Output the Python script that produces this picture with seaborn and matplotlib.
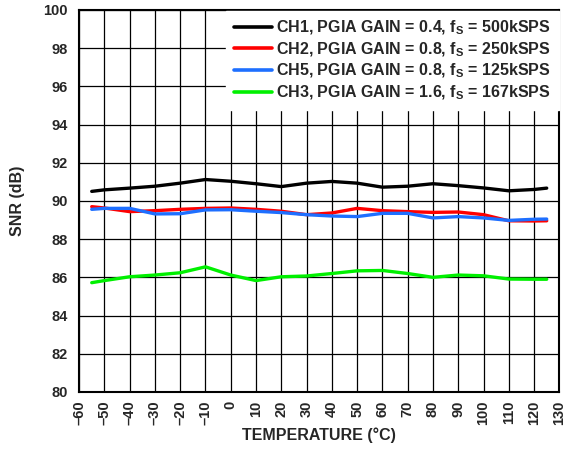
import matplotlib
matplotlib.use("Agg")
import matplotlib.pyplot as plt
import pandas as pd
import seaborn as sns

# ---------------------------------------------------------------------------
# Data
# ---------------------------------------------------------------------------

temperature = [-55, -50, -40, -30, -20, -10, 0, 10, 20, 30, 40, 50, 60, 70,
               80, 90, 100, 110, 120, 125]

snr_ch1 = [90.50, 90.58, 90.67, 90.77, 90.93, 91.12, 91.03, 90.90, 90.75, 90.93,
           91.02, 90.93, 90.72, 90.77, 90.90, 90.80, 90.68, 90.53, 90.60, 90.67]
snr_ch2 = [89.70, 89.63, 89.44, 89.49, 89.56, 89.61, 89.63, 89.56, 89.46, 89.28,
           89.37, 89.61, 89.49, 89.44, 89.40, 89.42, 89.28, 88.96, 88.95, 88.96]
snr_ch5 = [89.56, 89.61, 89.61, 89.32, 89.33, 89.53, 89.54, 89.46, 89.39, 89.28,
           89.21, 89.18, 89.35, 89.35, 89.11, 89.18, 89.11, 88.98, 89.04, 89.05]
snr_ch3 = [85.72, 85.83, 86.03, 86.12, 86.24, 86.55, 86.12, 85.83, 86.03, 86.07,
           86.20, 86.34, 86.36, 86.20, 86.00, 86.12, 86.08, 85.91, 85.90, 85.90]

series_labels = [
    "CH1, PGIA GAIN = 0.4, f$_S$ = 500kSPS",
    "CH2, PGIA GAIN = 0.8, f$_S$ = 250kSPS",
    "CH5, PGIA GAIN = 0.8, f$_S$ = 125kSPS",
    "CH3, PGIA GAIN = 1.6, f$_S$ = 167kSPS",
]
series_colors = ["#000000", "#ff0000", "#1e6fff", "#00f000"]

x_ticks = list(range(-60, 131, 10))
y_ticks = list(range(80, 101, 2))

# ---------------------------------------------------------------------------
# Plot
# ---------------------------------------------------------------------------

sns.set_style("white")
plt.rcParams["font.family"] = ["Liberation Sans", "DejaVu Sans"]
plt.rcParams["font.weight"] = "bold"
plt.rcParams["mathtext.fontset"] = "custom"
plt.rcParams["mathtext.rm"] = "Liberation Sans:bold"
plt.rcParams["mathtext.it"] = "Liberation Sans:bold"
plt.rcParams["mathtext.bf"] = "Liberation Sans:bold"
plt.rcParams["axes.unicode_minus"] = False

df = pd.DataFrame({
    "temp": temperature * 4,
    "snr": snr_ch1 + snr_ch2 + snr_ch5 + snr_ch3,
    "series": sum([[lab] * len(temperature) for lab in series_labels], []),
})

fig = plt.figure(figsize=(5.65, 4.5), dpi=100)
ax = fig.add_axes([0.140, 0.129, 0.850, 0.849])

sns.lineplot(
    data=df, x="temp", y="snr", hue="series",
    hue_order=series_labels, palette=series_colors,
    linewidth=2.4, ax=ax,
)

ax.set_xlim(-60, 130)
ax.set_ylim(80, 100)
ax.set_xticks(x_ticks)
ax.set_yticks(y_ticks)
ax.set_xticklabels([str(t).replace("-", "\u2013") for t in x_ticks],
                   rotation=90, fontsize=10.5, fontweight="bold")
ax.set_yticklabels([str(t) for t in y_ticks], fontsize=10.5, fontweight="bold")
ax.tick_params(axis="y", length=0, pad=8)
ax.tick_params(axis="x", length=0, pad=6)

ax.grid(True, color="black", linewidth=0.9)
ax.set_axisbelow(True)
for spine in ax.spines.values():
    spine.set_color("black")
    spine.set_linewidth(1.5)

ax.set_xlabel("TEMPERATURE (°C)", fontsize=11.5, fontweight="bold", labelpad=2)
ax.set_ylabel("SNR (dB)", fontsize=11.5, fontweight="bold", labelpad=13)

leg = ax.legend(
    loc="upper right", fontsize=11.5, frameon=True, fancybox=False,
    handlelength=2.4, handletextpad=0.25, labelspacing=0.2,
    borderaxespad=0.05, borderpad=0.5,
)
leg.get_frame().set_edgecolor("white")
leg.get_frame().set_facecolor("white")
leg.get_frame().set_alpha(1.0)
for text in leg.get_texts():
    text.set_fontweight("bold")
for line in leg.get_lines():
    line.set_linewidth(2.6)

fig.savefig("out.png", dpi=100)
